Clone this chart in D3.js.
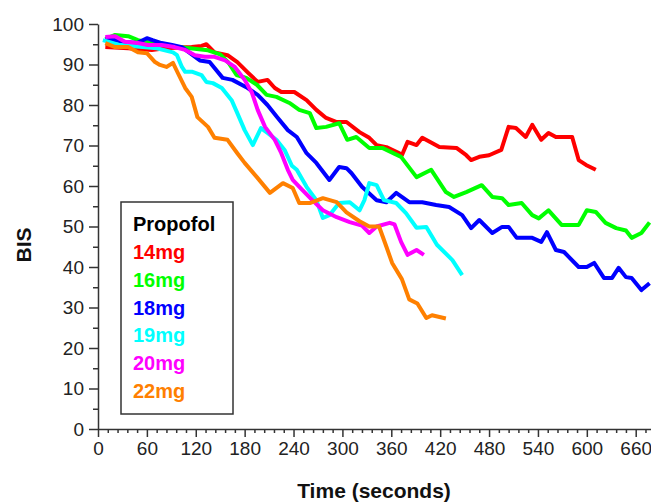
<!DOCTYPE html>
<html><head><meta charset="utf-8">
<script src="https://cdn.jsdelivr.net/npm/d3@7"></script>
<style>body{margin:0;background:#fff}svg{display:block}</style>
</head><body>
<svg id="c" width="651" height="502"></svg>
<script>
// ---- data ----
const seriesNames = ["14mg", "16mg", "18mg", "19mg", "20mg", "22mg"];
const seriesColors = ["#ff0000", "#00ff00", "#0000ff", "#00ffff", "#ff00ff", "#ff8000"];
const xMajorTicks = [0, 60, 120, 180, 240, 300, 360, 420, 480, 540, 600, 660];
const yMajorTicks = [0, 10, 20, 30, 40, 50, 60, 70, 80, 90, 100];

const bis14 = [[9,94.3],[37,94],[66,93.6],[82,94],[115,94.3],[127,94.6],[133,95],[143,93],[159,92.3],[171,90.6],[184,88],[196,85.7],[208,86.2],[217,84.2],[225,83.2],[241,83.2],[256,81.2],[268,78.8],[280,76.8],[293,75.8],[305,75.8],[321,73.3],[333,71.9],[342,70.1],[354,69.6],[370,68.1],[373,67.6],[380,70.9],[391,70.1],[398,71.9],[410,70.6],[419,69.6],[440,69.4],[452,67.6],[458,66.4],[468,67.2],[480,67.6],[495,68.9],[504,74.6],[513,74.3],[525,72.1],[533,75.1],[544,71.4],[553,73.1],[562,72.1],[582,72.1],[590,66.4],[599,65.2],[611,64]];
const bis16 = [[9,96.3],[21,97.3],[37,97],[49,96],[66,95.3],[82,94.8],[98,94.3],[113,94],[135,93.5],[150,92.5],[160,90.5],[170,87.4],[182,86.7],[195,85],[207,82.5],[219,82],[235,80.5],[247,78.8],[260,78],[268,74.3],[280,74.6],[296,75.5],[306,71.4],[317,72.1],[333,69.4],[349,69.4],[372,67.2],[391,62.2],[409,64],[427,58.5],[437,57.3],[452,58.5],[471,60.2],[484,57.3],[496,57],[504,55.3],[520,55.8],[533,52.8],[541,52],[553,54],[569,50.4],[590,50.4],[600,54],[611,53.6],[623,50.9],[636,49.6],[648,49],[655,47.2],[667,48.4],[677,51]];
const bis18 = [[9,96.5],[31,95.6],[48,95.3],[60,96.5],[67,96],[78,95.3],[91,94.8],[103,94.3],[113,92.8],[125,91],[137,90.6],[153,86.7],[165,86.2],[182,84.4],[196,82.5],[208,80],[220,77],[233,73.8],[244,72.1],[256,68.1],[268,65.7],[284,61.5],[296,64.7],[305,64.4],[311,63.2],[324,59.8],[342,56.5],[354,56],[366,58.3],[382,56],[398,56],[415,55.3],[431,54.8],[447,52.8],[458,49.6],[468,51.6],[484,48.4],[496,49.9],[504,49.9],[514,47.2],[533,47.2],[544,46.2],[551,48.6],[562,44.2],[572,43.7],[590,40],[600,40],[609,41],[621,37.3],[631,37.3],[639,39.8],[648,37.5],[655,37.3],[667,34.3],[677,36]];
const bis19 = [[6,96],[27,94.8],[72,94],[92,93],[97,92.3],[103,89.4],[107,88.2],[116,88.2],[127,87.4],[133,85.7],[141,85.4],[152,84.2],[164,81.2],[171,78],[180,73.8],[190,70.1],[200,74.3],[208,73.1],[219,71.4],[229,68.9],[238,65],[244,64],[256,59.8],[268,56.5],[276,52.1],[284,52.8],[296,55.8],[309,56],[321,54],[327,56.5],[333,60.7],[342,60.2],[351,56.5],[366,55.8],[378,53.3],[391,49.7],[403,49.9],[416,45.5],[435,41.7],[447,38]];
const bis20 = [[9,96.8],[21,97],[33,95.6],[49,95.3],[61,94.8],[78,94.8],[94,94.3],[107,93.6],[119,92.3],[131,91.9],[143,91.9],[156,91],[168,89.4],[180,86.2],[189,83],[196,78.8],[205,74.6],[217,71.4],[225,68.1],[233,64],[239,61.5],[251,59],[263,56.5],[276,54],[293,52.3],[309,51.1],[324,50.2],[333,48.4],[342,50],[358,50.9],[364,50.5],[372,46.2],[380,43],[391,44.2],[400,43]];
const bis22 = [[9,95.3],[21,94.3],[37,94.3],[49,93],[60,92.8],[70,90.6],[76,89.9],[84,89.4],[92,90.4],[98,87.9],[107,84.2],[115,82],[122,77],[135,74.6],[143,71.9],[159,71.4],[171,68.1],[180,65.7],[195,62.2],[211,58.3],[227,60.7],[239,59.5],[247,55.8],[260,55.8],[276,57],[293,56],[305,53.5],[321,51.3],[333,50],[345,50],[354,45],[361,41],[373,37],[382,32],[392,31],[403,27.4],[410,28.1],[427,27.3]];

const seriesData = [bis14, bis16, bis18, bis19, bis20, bis22];

// ---- layout ----
const svg = d3.select("#c");
const x = d3.scaleLinear().domain([0, 680]).range([98, 652]);
const y = d3.scaleLinear().domain([0, 100]).range([429, 24]);
const font = "'Liberation Sans', Arial, Helvetica, sans-serif";
const axisColor = "#333";

svg.append("defs").append("clipPath").attr("id", "plotclip")
  .append("rect").attr("x", 98).attr("y", 0).attr("width", 553).attr("height", 440);

// minor ticks
const xMinor = d3.range(0, 681, 12).filter(v => v % 60 !== 0);
const yMinor = d3.range(5, 100, 10);

const gxMinor = svg.append("g").attr("transform", `translate(0,${y(0)})`)
  .call(d3.axisBottom(x).tickValues(xMinor).tickSize(4).tickFormat(""));
const gyMinor = svg.append("g").attr("transform", `translate(${x(0)},0)`)
  .call(d3.axisLeft(y).tickValues(yMinor).tickSize(5).tickFormat(""));

const gx = svg.append("g").attr("transform", `translate(0,${y(0)})`)
  .call(d3.axisBottom(x).tickValues(xMajorTicks).tickSize(8).tickPadding(5).tickSizeOuter(0));
const gy = svg.append("g").attr("transform", `translate(${x(0)},0)`)
  .call(d3.axisLeft(y).tickValues(yMajorTicks).tickSize(9).tickPadding(5).tickSizeOuter(0));

[gx, gy, gxMinor, gyMinor].forEach(g => {
  g.selectAll("path").attr("stroke", axisColor).attr("stroke-width", 1.5);
  g.selectAll("line").attr("stroke", axisColor).attr("stroke-width", 1.5);
  g.selectAll("text").attr("fill", "#222").style("font-family", font).style("font-size", "19px");
});
gxMinor.select("path").remove();
gyMinor.select("path").remove();

// lines
const line = d3.line().x(d => x(d[0])).y(d => y(d[1]));
const gLines = svg.append("g").attr("clip-path", "url(#plotclip)");
seriesData.forEach((data, i) => {
  gLines.append("path").datum(data)
    .attr("d", line)
    .attr("fill", "none")
    .attr("stroke", seriesColors[i])
    .attr("stroke-width", 4)
    .attr("stroke-linejoin", "round")
    .attr("stroke-linecap", "butt");
});

// axis titles
svg.append("text").attr("x", 374).attr("y", 498).attr("text-anchor", "middle")
  .style("font-family", font).style("font-size", "21px").style("font-weight", "bold")
  .attr("fill", "#111").text("Time (seconds)");
svg.append("text").attr("transform", "translate(31,245) rotate(-90)").attr("text-anchor", "middle")
  .style("font-family", font).style("font-size", "21px").style("font-weight", "bold")
  .attr("fill", "#111").text("BIS");

// legend
const lg = svg.append("g");
lg.append("rect").attr("x", 121).attr("y", 202).attr("width", 112).attr("height", 212)
  .attr("fill", "#fff").attr("stroke", "#333").attr("stroke-width", 1.5);
lg.append("text").attr("x", 133).attr("y", 231).text("Propofol")
  .style("font-family", font).style("font-size", "20px").style("font-weight", "bold").attr("fill", "#000");
seriesNames.forEach((n, i) => {
  lg.append("text").attr("x", 133).attr("y", 259 + i * 27.8).text(n)
    .style("font-family", font).style("font-size", "20px").style("font-weight", "bold")
    .attr("fill", seriesColors[i]);
});
</script>
</body></html>
